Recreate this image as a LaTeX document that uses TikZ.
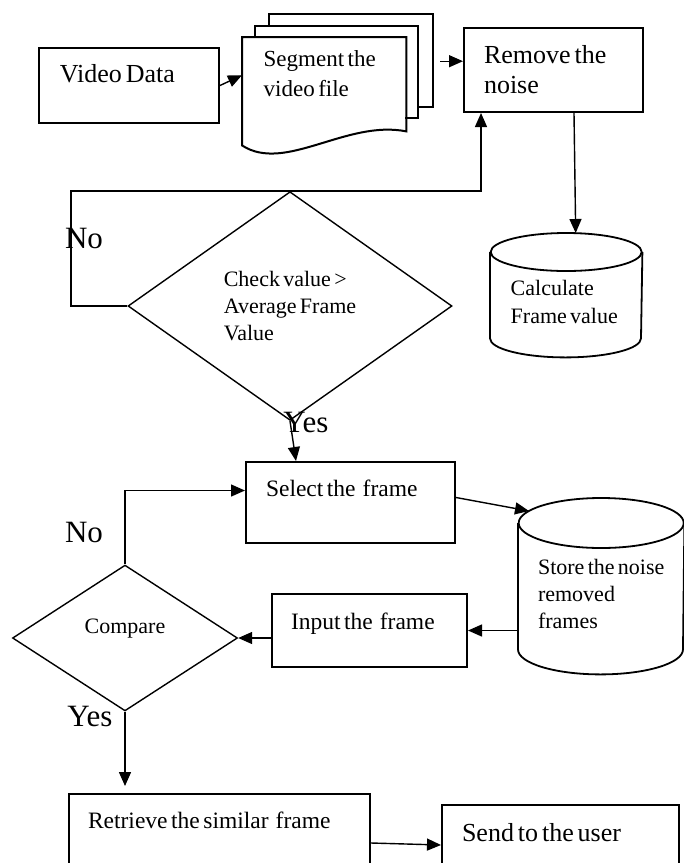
\documentclass[tikz,border=0pt]{standalone}
\usepackage{fontspec}
\setmainfont{Liberation Serif}[WordSpace=0.6]
\usetikzlibrary{shapes,arrows.meta}
\tikzstyle{txt} = [rectangle, anchor=north west, align=flush left, inner ysep=0pt]
\tikzstyle{box} = [txt, draw, line width=1pt]
\tikzstyle{check} = [draw, diamond, align=left]
\tikzstyle{answer} = [font=\fontsize{15.5}{18}\selectfont]

\begin{document}
\begin{tikzpicture}[x=0.5pt,y=-0.5pt,>={Triangle[length=7pt,width=6pt]},line width=0.7pt]
\useasboundingbox (0,0) rectangle (684,863);

% top row
\node[box, text width=69pt, inner xsep=10.5pt, text height=17pt, text depth=20.5pt, font=\fontsize{13}{15}\selectfont] (vd) at (38,47) {Video Data};
\node[txt, text width=60.5pt, inner xsep=10.5pt, text height=14.5pt, text depth=39pt, font=\fontsize{11.5}{15}\selectfont] (seg) at (242,37) {Segment the\\video file};
\node[box, text width=69.5pt, inner xsep=10pt, text height=17.5pt, text depth=24.5pt, font=\fontsize{13}{15}\selectfont] (rem) at (463,27) {Remove the\\noise};

% stacked pages
\draw[line width=1pt] (seg.north west) -- (seg.south west) .. controls +(43,28) and +(-60,-12) .. ([yshift=7pt]seg.south east) -- (seg.north east) -- cycle;
\draw[line width=1pt] ([xshift=6.5pt]seg.north west) -- ++(0,-11) -- ++(163,0) -- ++(0,92) -- ++(-13,0);
\draw[line width=1pt] ([xshift=13.5pt,yshift=5.5pt]seg.north west) -- ++(0,-12) -- ++(164,0) -- ++(0,93) -- ++(-15,0);

% first check
\node[check, minimum width=162pt, minimum height=94pt, font=\fontsize{11}{13.5}\selectfont] (dec1) at (290,306) {Check value >\\Average Frame\\Value};
\node[txt, text width=55.5pt, inner xsep=10pt, text height=21.5pt, text depth=21pt, font=\fontsize{11}{14}\selectfont] (calc) at (490,252) {Calculate\\Frame value};
\draw[line width=0.9pt] (calc.north west) -- (calc.south west) arc[start angle=180, end angle=360, x radius=37.75pt, y radius=9.5pt] -- (calc.north east);
\draw[line width=0.9pt] (calc.north) ellipse [x radius=37.75pt, y radius=9.5pt];

\node[answer] (no1) at (84,238) {No};
\node[answer] (yes1) at (306,422) {Yes};

% second part
\node[box, text width=84.5pt, inner xsep=10pt, text height=17pt, text depth=23.5pt, font=\fontsize{11.75}{14}\selectfont] (sel) at (245,461) {Select the~ frame};
\node[txt, align=left, minimum width=82.5pt, minimum height=62.5pt, inner xsep=0pt, text height=52.5pt, text depth=10pt, font=\fontsize{11}{13.5}\selectfont] (sto) at (518,523) {Store the noise\\removed\\frames};
\draw[line width=0.9pt] (sto.north west) -- (sto.south west) arc[start angle=180, end angle=360, x radius=41.25pt, y radius=12.5pt] -- (sto.north east);
\draw[line width=0.9pt] (sto.north) ellipse [x radius=41.25pt, y radius=12.5pt];
\node[box, text width=78.5pt, inner xsep=9.5pt, text height=17.5pt, text depth=19pt, font=\fontsize{11.75}{14}\selectfont] (inp) at (271,593) {Input the~ frame};
\node[check, minimum width=112.5pt, minimum height=64pt, text depth=12pt, font=\fontsize{11}{13.5}\selectfont] (dec2) at (125,638) {Compare};

\node[answer] (no2) at (84,532) {No};
\node[answer] (yes2) at (90,716) {Yes};

\node[box, text width=131.5pt, inner xsep=9.5pt, text height=17pt, text depth=32pt, font=\fontsize{11.75}{14}\selectfont] (ret) at (68,793) {Retrieve the similar~ frame};
\node[box, text width=98.5pt, inner xsep=10pt, text height=18pt, text depth=22pt, font=\fontsize{13}{15}\selectfont] (snd) at (441,804) {Send to the user};

% connectors
\coordinate (segR) at ([xshift=14pt,yshift=15pt]seg.east);
\coordinate (loop) at (71,191);
\draw[->] (vd.east) -- ([yshift=8pt]seg.west);
\draw[->, shorten <=3pt] (segR) -- (segR -| rem.west);
\draw[->] ([xshift=-35pt]rem.south east) -- ([xshift=4.75pt,yshift=9.5pt]calc.north);
\draw[->] (dec1.west) -| (loop) -| ([xshift=9pt]rem.south west);
\draw[->] (dec1.south) -- ([xshift=3pt]dec1.south |- sel.north);
\draw[->] ([yshift=2.5pt]sel.east) -- ([xshift=5.5pt,yshift=6pt]sto.north west);
\draw[->] (sto.west |- inp.east) -- (inp.east);
\draw[->] (inp.west |- dec2.east) -- (dec2.east);
\draw[->] (dec2.north) |- ([yshift=6pt]sel.west);
\draw[->, shorten >=3.5pt] (dec2.south) -- (dec2.south |- ret.north);
\draw[->] (ret.east) -- (snd.west);
\end{tikzpicture}
\end{document}
